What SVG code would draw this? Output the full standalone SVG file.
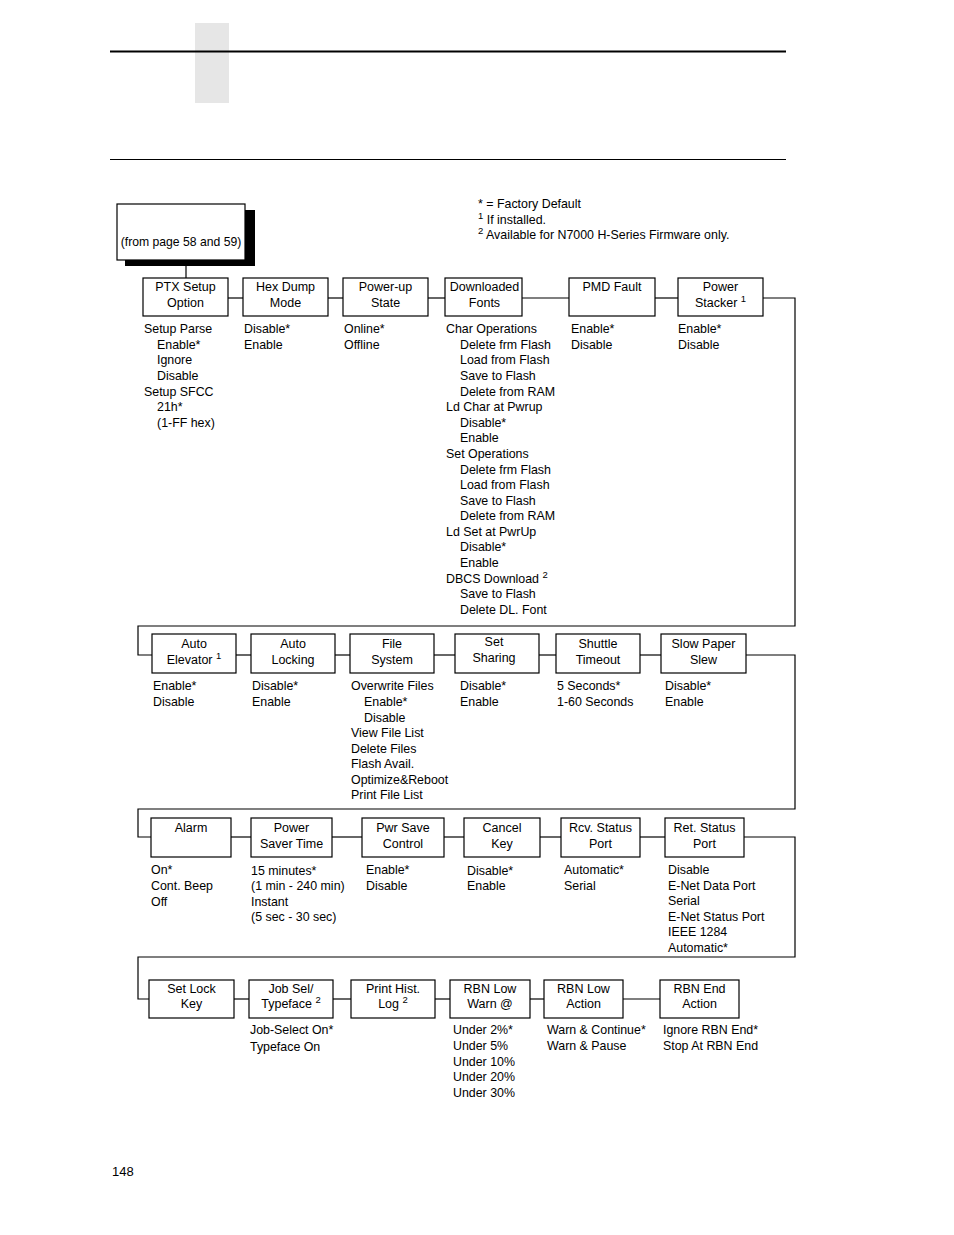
<svg xmlns="http://www.w3.org/2000/svg" width="954" height="1235" viewBox="0 0 954 1235">
<style>
text{font-family:"Liberation Sans",Arial,sans-serif;fill:#000}
.b{font-size:12.5px;text-anchor:middle}
.o{font-size:12.4px}
.sup{font-size:9.5px}
rect.n{fill:#fff;stroke:#000;stroke-width:1.2}
.c{fill:none;stroke:#000;stroke-width:1.2}
</style>
<rect width="954" height="1235" fill="#fff"/>
<g id="header">
<rect x="195" y="23" width="34" height="80" fill="#e6e6e6"/>
<line x1="110" y1="51.5" x2="786" y2="51.5" stroke="#000" stroke-width="2.2"/>
<line x1="110" y1="159.5" x2="786" y2="159.5" stroke="#000" stroke-width="1.2"/>
</g>
<g id="legend">
<text x="478" y="208" class="o">* = Factory Default</text>
<text x="478" y="224" class="o"><tspan class="sup" dy="-5">1</tspan><tspan dy="5"> If installed.</tspan></text>
<text x="478" y="239" class="o"><tspan class="sup" dy="-5">2</tspan><tspan dy="5"> Available for N7000 H-Series Firmware only.</tspan></text>
</g>
<g id="connectors">
<polyline class="c" points="186,260 186,278"/>
<line class="c" x1="228" y1="298" x2="243" y2="298"/>
<line class="c" x1="328" y1="298" x2="343" y2="298"/>
<line class="c" x1="428" y1="298" x2="445" y2="298"/>
<line class="c" x1="522" y1="298" x2="569" y2="298"/>
<line class="c" x1="655" y1="298" x2="678" y2="298"/>
<polyline class="c" points="763,298 795,298 795,626 138,626 138,655 152,655"/>
<line class="c" x1="236" y1="655" x2="251" y2="655"/>
<line class="c" x1="335" y1="655" x2="350" y2="655"/>
<line class="c" x1="434" y1="655" x2="455" y2="655"/>
<line class="c" x1="539" y1="655" x2="556" y2="655"/>
<line class="c" x1="640" y1="655" x2="661" y2="655"/>
<polyline class="c" points="746,655 795,655 795,809 138,809 138,837 151,837"/>
<line class="c" x1="231" y1="837" x2="251" y2="837"/>
<line class="c" x1="332" y1="837" x2="362" y2="837"/>
<line class="c" x1="444" y1="837" x2="464" y2="837"/>
<line class="c" x1="540" y1="837" x2="561" y2="837"/>
<line class="c" x1="640" y1="837" x2="665" y2="837"/>
<polyline class="c" points="744,837 795,837 795,957 138,957 138,999 149,999"/>
<line class="c" x1="234" y1="999" x2="249" y2="999"/>
<line class="c" x1="333" y1="999" x2="351" y2="999"/>
<line class="c" x1="435" y1="999" x2="450" y2="999"/>
<line class="c" x1="530" y1="999" x2="544" y2="999"/>
<line class="c" x1="623" y1="999" x2="660" y2="999"/>
</g>
<g id="root">
<rect x="125" y="210" width="130" height="56" fill="#000"/>
<rect class="n" x="117" y="204" width="128" height="56"/>
<text class="b" x="181" y="246" style="font-size:12.2px">(from page 58 and 59)</text>
</g>
<g id="ptx">
<rect class="n" x="143" y="278" width="85" height="38"/>
<text class="b" x="185.5" y="291">PTX Setup</text><text class="b" x="185.5" y="307">Option</text>
<text class="o" x="144" y="333">Setup Parse</text>
<text class="o" x="157" y="349">Enable*</text>
<text class="o" x="157" y="364">Ignore</text>
<text class="o" x="157" y="380">Disable</text>
<text class="o" x="144" y="396">Setup SFCC</text>
<text class="o" x="157" y="411">21h*</text>
<text class="o" x="157" y="427">(1-FF hex)</text>
</g>
<g id="hexdump">
<rect class="n" x="243" y="278" width="85" height="38"/>
<text class="b" x="285.5" y="291">Hex Dump</text><text class="b" x="285.5" y="307">Mode</text>
<text class="o" x="244" y="333">Disable*</text>
<text class="o" x="244" y="349">Enable</text>
</g>
<g id="powerup">
<rect class="n" x="343" y="278" width="85" height="38"/>
<text class="b" x="385.5" y="291">Power-up</text><text class="b" x="385.5" y="307">State</text>
<text class="o" x="344" y="333">Online*</text>
<text class="o" x="344" y="349">Offline</text>
</g>
<g id="dlfonts">
<rect class="n" x="445" y="278" width="77" height="38"/>
<text class="b" x="484.5" y="291">Downloaded</text><text class="b" x="484.5" y="307">Fonts</text>
<text class="o" x="446" y="333">Char Operations</text>
<text class="o" x="460" y="349">Delete frm Flash</text>
<text class="o" x="460" y="364">Load from Flash</text>
<text class="o" x="460" y="380">Save to Flash</text>
<text class="o" x="460" y="396">Delete from RAM</text>
<text class="o" x="446" y="411">Ld Char at Pwrup</text>
<text class="o" x="460" y="427">Disable*</text>
<text class="o" x="460" y="442">Enable</text>
<text class="o" x="446" y="458">Set Operations</text>
<text class="o" x="460" y="474">Delete frm Flash</text>
<text class="o" x="460" y="489">Load from Flash</text>
<text class="o" x="460" y="505">Save to Flash</text>
<text class="o" x="460" y="520">Delete from RAM</text>
<text class="o" x="446" y="536">Ld Set at PwrUp</text>
<text class="o" x="460" y="551">Disable*</text>
<text class="o" x="460" y="567">Enable</text>
<text class="o" x="446" y="583">DBCS Download <tspan class="sup" dy="-5">2</tspan></text>
<text class="o" x="460" y="598">Save to Flash</text>
<text class="o" x="460" y="614">Delete DL. Font</text>
</g>
<g id="pmdfault">
<rect class="n" x="569" y="278" width="86" height="38"/>
<text class="b" x="612" y="291">PMD Fault</text>
<text class="o" x="571" y="333">Enable*</text>
<text class="o" x="571" y="349">Disable</text>
</g>
<g id="powerstacker">
<rect class="n" x="678" y="278" width="85" height="38"/>
<text class="b" x="720.5" y="291">Power</text><text class="b" x="720.5" y="307">Stacker <tspan class="sup" dy="-5">1</tspan></text>
<text class="o" x="678" y="333">Enable*</text>
<text class="o" x="678" y="349">Disable</text>
</g>
<g id="autoelevator">
<rect class="n" x="152" y="634" width="84" height="39"/>
<text class="b" x="194" y="648">Auto</text><text class="b" x="194" y="664">Elevator <tspan class="sup" dy="-5">1</tspan></text>
<text class="o" x="153" y="690">Enable*</text>
<text class="o" x="153" y="706">Disable</text>
</g>
<g id="autolocking">
<rect class="n" x="251" y="634" width="84" height="39"/>
<text class="b" x="293" y="648">Auto</text><text class="b" x="293" y="664">Locking</text>
<text class="o" x="252" y="690">Disable*</text>
<text class="o" x="252" y="706">Enable</text>
</g>
<g id="filesystem">
<rect class="n" x="350" y="634" width="84" height="39"/>
<text class="b" x="392" y="648">File</text><text class="b" x="392" y="664">System</text>
<text class="o" x="351" y="690">Overwrite Files</text>
<text class="o" x="364" y="706">Enable*</text>
<text class="o" x="364" y="722">Disable</text>
<text class="o" x="351" y="737">View File List</text>
<text class="o" x="351" y="753">Delete Files</text>
<text class="o" x="351" y="768">Flash Avail.</text>
<text class="o" x="351" y="784">Optimize&amp;Reboot</text>
<text class="o" x="351" y="799">Print File List</text>
</g>
<g id="setsharing">
<rect class="n" x="455" y="634" width="84" height="39"/>
<text class="b" x="494" y="646">Set</text><text class="b" x="494" y="662">Sharing</text>
<text class="o" x="460" y="690">Disable*</text>
<text class="o" x="460" y="706">Enable</text>
</g>
<g id="shuttletimeout">
<rect class="n" x="556" y="634" width="84" height="39"/>
<text class="b" x="598" y="648">Shuttle</text><text class="b" x="598" y="664">Timeout</text>
<text class="o" x="557" y="690">5 Seconds*</text>
<text class="o" x="557" y="706">1-60 Seconds</text>
</g>
<g id="slowpaperslew">
<rect class="n" x="661" y="634" width="85" height="39"/>
<text class="b" x="703.5" y="648">Slow Paper</text><text class="b" x="703.5" y="664">Slew</text>
<text class="o" x="665" y="690">Disable*</text>
<text class="o" x="665" y="706">Enable</text>
</g>
<g id="alarm">
<rect class="n" x="151" y="818" width="80" height="39"/>
<text class="b" x="191" y="832">Alarm</text>
<text class="o" x="151" y="874">On*</text>
<text class="o" x="151" y="890">Cont. Beep</text>
<text class="o" x="151" y="906">Off</text>
</g>
<g id="powersavertime">
<rect class="n" x="251" y="818" width="81" height="39"/>
<text class="b" x="291.5" y="832">Power</text><text class="b" x="291.5" y="848">Saver Time</text>
<text class="o" x="251" y="875">15 minutes*</text>
<text class="o" x="251" y="890">(1 min - 240 min)</text>
<text class="o" x="251" y="906">Instant</text>
<text class="o" x="251" y="921">(5 sec - 30 sec)</text>
</g>
<g id="pwrsavecontrol">
<rect class="n" x="362" y="818" width="82" height="39"/>
<text class="b" x="403" y="832">Pwr Save</text><text class="b" x="403" y="848">Control</text>
<text class="o" x="366" y="874">Enable*</text>
<text class="o" x="366" y="890">Disable</text>
</g>
<g id="cancelkey">
<rect class="n" x="464" y="818" width="76" height="39"/>
<text class="b" x="502" y="832">Cancel</text><text class="b" x="502" y="848">Key</text>
<text class="o" x="467" y="875">Disable*</text>
<text class="o" x="467" y="890">Enable</text>
</g>
<g id="rcvstatusport">
<rect class="n" x="561" y="818" width="79" height="39"/>
<text class="b" x="600.5" y="832">Rcv. Status</text><text class="b" x="600.5" y="848">Port</text>
<text class="o" x="564" y="874">Automatic*</text>
<text class="o" x="564" y="890">Serial</text>
</g>
<g id="retstatusport">
<rect class="n" x="665" y="818" width="79" height="39"/>
<text class="b" x="704.5" y="832">Ret. Status</text><text class="b" x="704.5" y="848">Port</text>
<text class="o" x="668" y="874">Disable</text>
<text class="o" x="668" y="890">E-Net Data Port</text>
<text class="o" x="668" y="905">Serial</text>
<text class="o" x="668" y="921">E-Net Status Port</text>
<text class="o" x="668" y="936">IEEE 1284</text>
<text class="o" x="668" y="952">Automatic*</text>
</g>
<g id="setlockkey">
<rect class="n" x="149" y="980" width="85" height="38"/>
<text class="b" x="191.5" y="993">Set Lock</text><text class="b" x="191.5" y="1008">Key</text>
</g>
<g id="jobsel">
<rect class="n" x="249" y="980" width="84" height="38"/>
<text class="b" x="291" y="993">Job Sel/</text><text class="b" x="291" y="1008">Typeface <tspan class="sup" dy="-5">2</tspan></text>
<text class="o" x="250" y="1034">Job-Select On*</text>
<text class="o" x="250" y="1051">Typeface On</text>
</g>
<g id="printhistlog">
<rect class="n" x="351" y="980" width="84" height="38"/>
<text class="b" x="393" y="993">Print Hist.</text><text class="b" x="393" y="1008">Log <tspan class="sup" dy="-5">2</tspan></text>
</g>
<g id="rbnlowwarn">
<rect class="n" x="450" y="980" width="80" height="38"/>
<text class="b" x="490" y="993">RBN Low</text><text class="b" x="490" y="1008">Warn @</text>
<text class="o" x="453" y="1034">Under 2%*</text>
<text class="o" x="453" y="1050">Under 5%</text>
<text class="o" x="453" y="1066">Under 10%</text>
<text class="o" x="453" y="1081">Under 20%</text>
<text class="o" x="453" y="1097">Under 30%</text>
</g>
<g id="rbnlowaction">
<rect class="n" x="544" y="980" width="79" height="38"/>
<text class="b" x="583.5" y="993">RBN Low</text><text class="b" x="583.5" y="1008">Action</text>
<text class="o" x="547" y="1034">Warn &amp; Continue*</text>
<text class="o" x="547" y="1050">Warn &amp; Pause</text>
</g>
<g id="rbnendaction">
<rect class="n" x="660" y="980" width="79" height="38"/>
<text class="b" x="699.5" y="993">RBN End</text><text class="b" x="699.5" y="1008">Action</text>
<text class="o" x="663" y="1034">Ignore RBN End*</text>
<text class="o" x="663" y="1050">Stop At RBN End</text>
</g>
<text class="o" x="112" y="1176" style="font-size:13px">148</text>
</svg>
